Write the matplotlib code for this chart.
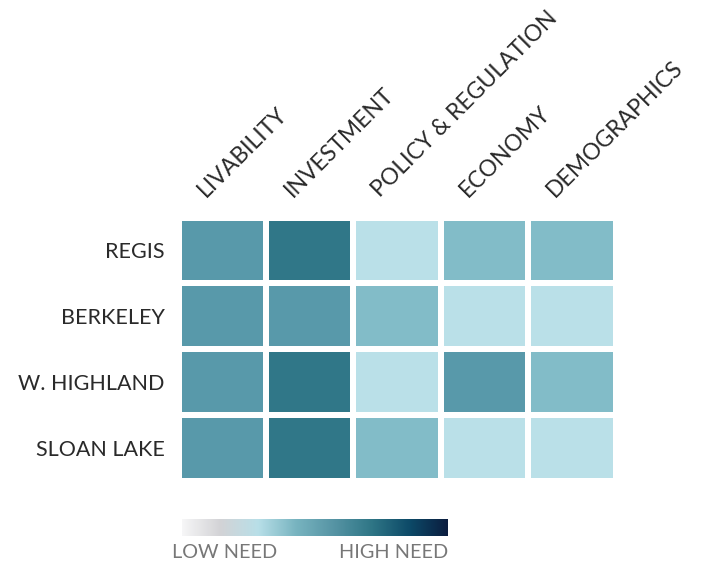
import matplotlib
matplotlib.use("Agg")
import matplotlib.pyplot as plt
import numpy as np
from matplotlib.colors import LinearSegmentedColormap, ListedColormap, BoundaryNorm

plt.rcParams['font.family'] = ['Lato', 'DejaVu Sans']

areas = ["REGIS", "BERKELEY", "W. HIGHLAND", "SLOAN LAKE"]
factors = ["LIVABILITY", "INVESTMENT", "POLICY & REGULATION", "ECONOMY", "DEMOGRAPHICS"]
# need level 1 (low) .. 4 (high)
need = [
    [3, 4, 1, 2, 2],
    [3, 3, 2, 1, 1],
    [3, 4, 1, 3, 2],
    [3, 4, 2, 1, 1],
]
level_colors = ["#bae0e8", "#82bcc8", "#5899aa", "#307788"]
bar_stops = ["#f6f6f7", "#d3d3d6", "#b8dfe8", "#78b4c0", "#5694a4", "#2f7686", "#0d4a68", "#0b1d3f"]

fig = plt.figure(figsize=(7.18, 5.65), dpi=100)
ax = fig.add_axes([178.5 / 718, 1 - 480.5 / 565, 437 / 718, 263 / 565])

cmap = ListedColormap(level_colors)
norm = BoundaryNorm([0.5, 1.5, 2.5, 3.5, 4.5], cmap.N)
data = np.array(need)
ax.pcolormesh(np.arange(len(factors) + 1), np.arange(len(areas) + 1), data,
              cmap=cmap, norm=norm, edgecolor="white", linewidth=3)
ax.set_xlim(0, len(factors))
ax.set_ylim(len(areas), 0)
for s in ax.spines.values():
    s.set_visible(False)
ax.set_xticks([])
ax.set_yticks(np.arange(len(areas)) + 0.5)
ax.set_yticklabels(areas, fontsize=15.5, color="#2a2a2a")
ax.tick_params(axis="y", length=0, pad=10)

for i, f in enumerate(factors):
    ax.text(i + 0.34, -0.26, f, rotation=45, rotation_mode="anchor",
            ha="left", va="bottom", fontsize=16.5, color="#2a2a2a")

# legend bar
cax = fig.add_axes([182 / 718, 1 - 536 / 565, 266 / 718, 17 / 565])
grad = LinearSegmentedColormap.from_list("need", bar_stops)
cax.imshow(np.linspace(0, 1, 256)[None, :], aspect="auto", cmap=grad)
cax.axis("off")
fig.text(225 / 718, 1 - 553 / 565, "LOW NEED", ha="center", va="center",
         fontsize=14.3, color="#777777")
fig.text(394 / 718, 1 - 553 / 565, "HIGH NEED", ha="center", va="center",
         fontsize=14.3, color="#777777")

fig.savefig("out.png", dpi=100)
